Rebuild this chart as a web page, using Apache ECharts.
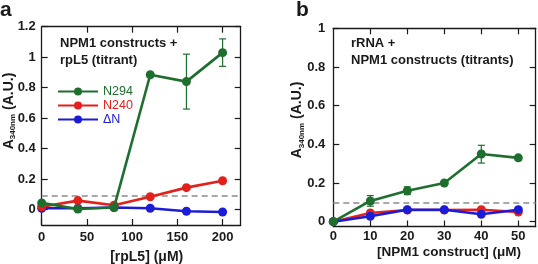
<!DOCTYPE html>
<html>
<head>
<meta charset="utf-8">
<script src="https://cdn.jsdelivr.net/npm/echarts@6/dist/echarts.min.js"></script>
<style>html,body{margin:0;padding:0;background:#fff}#c{width:538px;height:264px}</style>
</head>
<body>
<div id="c"></div>
<script>
// Panel a: NPM1 constructs + rpL5 (titrant)
const xA = [0, 40, 80, 120, 160, 200];
const n294A = [0.045, 0.005, 0.015, 0.885, 0.84, 1.03];
const n294ALow = [null, null, null, null, 0.66, 0.94];
const n294AHigh = [null, null, null, null, 1.02, 1.12];
const n240A = [0.02, 0.06, 0.03, 0.085, 0.145, 0.19];
const dnA = [0.01, 0.01, 0.015, 0.01, -0.01, -0.015];
const thresholdA = 0.09;
const xTicksA = [0, 50, 100, 150, 200];
const yTicksA = [0, 0.2, 0.4, 0.6, 0.8, 1, 1.2];

// Panel b: rRNA + NPM1 constructs (titrants)
const xB = [0, 10, 20, 30, 40, 50];
const n294B = [0, 0.107, 0.16, 0.2, 0.35, 0.33];
const n294BLow = [null, 0.08, 0.14, null, 0.303, 0.318];
const n294BHigh = [null, 0.135, 0.18, null, 0.395, 0.342];
const n240B = [0, 0.045, 0.06, 0.06, 0.062, 0.05];
const dnB = [0, 0.028, 0.062, 0.062, 0.038, 0.062];
const thresholdB = 0.1;
const xTicksB = [0, 10, 20, 30, 40, 50];
const yTicksB = [0, 0.2, 0.4, 0.6, 0.8, 1];

const GREEN = '#1e6e2e', RED = '#e3201b', BLUE = '#1c1cd6', GRAY = '#8a8a8a';
const FONT = 'Liberation Sans, Arial, sans-serif';

function pairs(xs, ys) { return xs.map((x, i) => [x, ys[i]]); }
function errs(xs, lo, hi) {
  const out = [];
  xs.forEach((x, i) => { if (lo[i] != null) out.push([x, lo[i], hi[i]]); });
  return out;
}

const AXLINE = { show: true, onZero: false, lineStyle: { color: '#1a1a1a', width: 1.3 } };
function tick(vals) { return { show: true, inside: true, length: 6, customValues: vals, lineStyle: { color: '#1a1a1a', width: 1.2 } }; }
function lab(vals, margin) { return { customValues: vals, margin: margin, color: '#1a1a1a', fontWeight: 'bold', fontSize: 13, fontFamily: FONT }; }

function xAxes(grid, max, ticks, labelMargin) {
  return [
    { type: 'value', gridIndex: grid, position: 'bottom', min: 0, max: max,
      axisLine: AXLINE, axisTick: tick(ticks), axisLabel: lab(ticks, labelMargin), splitLine: { show: false } },
    { type: 'value', gridIndex: grid, position: 'top', min: 0, max: max,
      axisLine: AXLINE, axisTick: tick(ticks.filter(v => v > 0)), axisLabel: { show: false }, splitLine: { show: false } }
  ];
}
function yAxes(grid, min, max, ticks, labelMargin) {
  return [
    { type: 'value', gridIndex: grid, position: 'left', min: min, max: max,
      axisLine: AXLINE, axisTick: tick(ticks), axisLabel: lab(ticks, labelMargin), splitLine: { show: false } },
    { type: 'value', gridIndex: grid, position: 'right', min: min, max: max,
      axisLine: AXLINE, axisTick: tick(ticks), axisLabel: { show: false }, splitLine: { show: false } }
  ];
}

function lineSeries(name, data, color, xi, yi, z) {
  return { type: 'line', name: name, data: data, xAxisIndex: xi, yAxisIndex: yi,
    symbol: 'circle', symbolSize: 9, clip: false, z: z,
    lineStyle: { color: color, width: 2.6 }, itemStyle: { color: color } };
}
function errSeries(data, color, xi, yi) {
  return { type: 'custom', xAxisIndex: xi, yAxisIndex: yi, data: data, z: 4, clip: false,
    renderItem: function (params, api) {
      const x = api.value(0);
      const lo = api.coord([x, api.value(1)]);
      const hi = api.coord([x, api.value(2)]);
      const w = 3.5;
      const st = { stroke: color, lineWidth: 1.2 };
      return { type: 'group', children: [
        { type: 'line', shape: { x1: lo[0], y1: lo[1], x2: hi[0], y2: hi[1] }, style: st },
        { type: 'line', shape: { x1: lo[0] - w, y1: lo[1], x2: lo[0] + w, y2: lo[1] }, style: st },
        { type: 'line', shape: { x1: hi[0] - w, y1: hi[1], x2: hi[0] + w, y2: hi[1] }, style: st }
      ] };
    } };
}
function threshold(value, xi, yi) {
  return { type: 'line', data: [], xAxisIndex: xi, yAxisIndex: yi, silent: true,
    markLine: { silent: true, symbol: 'none', label: { show: false },
      lineStyle: { color: GRAY, type: [6, 4], width: 1.6 },
      data: [{ yAxis: value }] } };
}

const boldText = (x, y, text, size, align) => ({ type: 'text', x: x, y: y,
  style: { text: text, font: 'bold ' + size + 'px ' + FONT, fill: '#1a1a1a', align: align || 'left', verticalAlign: 'middle' } });
const yName = (x, y) => ({ type: 'text', x: x, y: y, rotation: Math.PI / 2,
  style: { text: '{a|A}{s|340nm}{a| (A.U.)}', align: 'center', verticalAlign: 'middle', fill: '#1a1a1a',
    rich: { a: { font: 'bold 14px ' + FONT, fill: '#1a1a1a', lineHeight: 16, verticalAlign: 'middle' },
            s: { font: 'bold 8px ' + FONT, fill: '#1a1a1a', lineHeight: 16, verticalAlign: 'bottom', padding: [4, 0, 0, 0] } } } });

const chart = echarts.init(document.getElementById('c'), null, { renderer: 'canvas' });
chart.setOption({
  animation: false,
  backgroundColor: '#fff',
  grid: [
    { left: 41.7, top: 26.7, width: 199, height: 198.3 },
    { left: 333.3, top: 28.3, width: 202.4, height: 198.2 }
  ],
  xAxis: [...xAxes(0, 220, xTicksA, 6), ...xAxes(1, 54.7, xTicksB, 3)],
  yAxis: [...yAxes(0, -0.1, 1.2, yTicksA, 6), ...yAxes(1, -0.025, 1, yTicksB, 8)],
  legend: {
    orient: 'vertical', left: 52, top: 80, itemWidth: 40, itemHeight: 10, itemGap: 1,
    textStyle: { fontSize: 12.5, fontFamily: FONT },
    data: [
      { name: 'N294', textStyle: { color: GREEN } },
      { name: 'N240', textStyle: { color: RED } },
      { name: 'ΔN', textStyle: { color: BLUE } }
    ]
  },
  series: [
    threshold(thresholdA, 0, 0),
    lineSeries('ΔN', pairs(xA, dnA), BLUE, 0, 0, 5),
    lineSeries('N240', pairs(xA, n240A), RED, 0, 0, 6),
    errSeries(errs(xA, n294ALow, n294AHigh), GREEN, 0, 0),
    lineSeries('N294', pairs(xA, n294A), GREEN, 0, 0, 7),
    threshold(thresholdB, 2, 2),
    lineSeries('N240', pairs(xB, n240B), RED, 2, 2, 5),
    lineSeries('ΔN', pairs(xB, dnB), BLUE, 2, 2, 6),
    errSeries(errs(xB, n294BLow, n294BHigh), GREEN, 2, 2),
    lineSeries('N294', pairs(xB, n294B), GREEN, 2, 2, 7)
  ],
  graphic: [
    boldText(0, 10, 'a', 21),
    boldText(296, 10, 'b', 21),
    boldText(60, 43, 'NPM1 constructs +', 13),
    boldText(60, 60, 'rpL5 (titrant)', 13),
    boldText(351, 43, 'rRNA +', 13),
    boldText(351, 60, 'NPM1 constructs (titrants)', 13),
    boldText(146.7, 257, '[rpL5] (μM)', 14, 'center'),
    boldText(449, 252, '[NPM1 construct] (μM)', 13.5, 'center'),
    yName(9, 111),
    yName(297.5, 120)
  ]
});
</script>
</body>
</html>
